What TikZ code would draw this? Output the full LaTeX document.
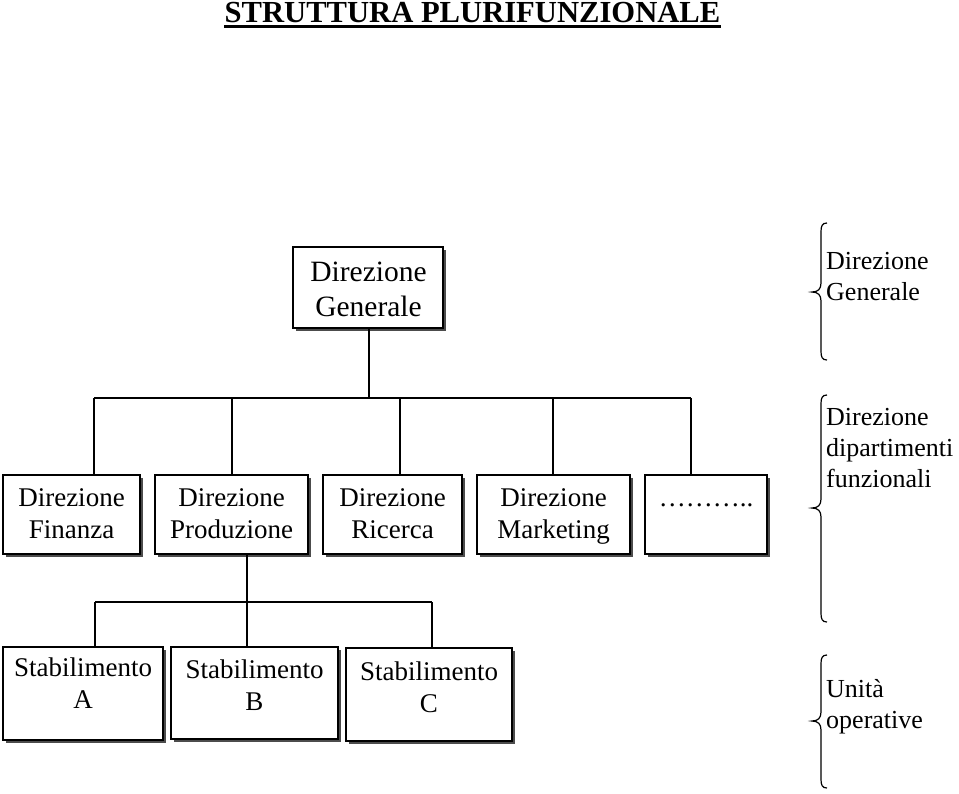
\documentclass[tikz,border=0pt]{standalone}
\usepackage{fontspec}
\setmainfont{Liberation Serif}
\usetikzlibrary{shadows,calc}
\tikzset{
  box/.style={draw=black, line width=1.3pt, fill=white, inner sep=0pt,
    drop shadow={shadow xshift=3pt, shadow yshift=-3pt, fill=black!70, opacity=1}},
  conn/.style={line width=1.3pt},
  lbl/.style={inner sep=0pt, anchor=base, align=center, font=\fontsize{27}{31.5}\selectfont},
  biglbl/.style={inner sep=0pt, anchor=base, align=center, font=\fontsize{29.5}{35}\selectfont},
  side/.style={inner sep=0pt, anchor=base west, align=left, font=\fontsize{26}{31}\selectfont},
  brc/.style={line width=1.2pt},
}
\begin{document}
\begin{tikzpicture}[x=1pt,y=-1pt]
\useasboundingbox (0,0) rectangle (959,793);
% title
\node[inner sep=0pt, anchor=base, font=\fontsize{30.6}{34}\selectfont\bfseries] (title) at (472.5,22.5) {STRUTTURA PLURIFUNZIONALE};
\draw[line width=2.5pt] ([yshift=-4pt]title.base west) -- ([yshift=-4pt]title.base east);

% boxes
\node[box, minimum width=150pt, minimum height=81pt] (dg) at (368,287.5) {};
\node[box, minimum width=137pt, minimum height=79pt] (fin) at (71.5,514.5) {};
\node[box, minimum width=153pt, minimum height=79pt] (prod) at (231.5,514.5) {};
\node[box, minimum width=139pt, minimum height=79pt] (ric) at (392.5,514.5) {};
\node[box, minimum width=153pt, minimum height=79pt] (mkt) at (553.5,514.5) {};
\node[box, minimum width=122pt, minimum height=79pt] (dots) at (706,514.5) {};
\node[box, minimum width=160pt, minimum height=93pt] (sa) at (83,693.5) {};
\node[box, minimum width=167pt, minimum height=92pt] (sb) at (254.5,693) {};
\node[box, minimum width=166pt, minimum height=93pt] (sc) at (429,694.5) {};

% texts (anchor = baseline of the last line)
\node[biglbl] (tdg) at (368.5,316.5) {Direzione\\Generale};
\node[lbl] (tfin) at (71.5,538) {Direzione\\Finanza};
\node[lbl] (tprod) at (231.5,538) {Direzione\\Produzione};
\node[lbl] (tric) at (392.5,538) {Direzione\\Ricerca};
\node[lbl] (tmkt) at (553.5,538) {Direzione\\Marketing};
\node[lbl] (tdots) at (706,506.5) {………..};
\node[lbl] (tsa) at (83,708) {Stabilimento\\A};
\node[lbl] (tsb) at (254.5,710) {Stabilimento\\B};
\node[lbl] (tsc) at (429,712) {Stabilimento\\C};

% connectors level 1-2
\coordinate (top) at (369,398);
\coordinate (b1) at (94,398);
\coordinate (b2) at (232,398);
\coordinate (b3) at (400,398);
\coordinate (b4) at (553,398);
\coordinate (b5) at (691,398);
\draw[conn] (dg.south -| top) -- (top);
\draw[conn] (b1) -- (b5);
\draw[conn] (b1) -- (b1 |- fin.north);
\draw[conn] (b2) -- (b2 |- prod.north);
\draw[conn] (b3) -- (b3 |- ric.north);
\draw[conn] (b4) -- (b4 |- mkt.north);
\draw[conn] (b5) -- (b5 |- dots.north);

% connectors level 2-3
\coordinate (p) at (247,554);
\coordinate (s1) at (95,602);
\coordinate (s3) at (432,602);
\draw[conn] (p |- prod.south) -- (p |- sb.north);
\draw[conn] (s1) -- (s3);
\draw[conn] (s1) -- (s1 |- sa.north);
\draw[conn] (s3) -- (s3 |- sc.north);

% braces
\draw[brc] (827,223) .. controls (822,223) and (821,226) .. (821,232) -- (821,283)
  .. controls (821,289) and (818,292) .. (812,292) .. controls (818,292) and (821,295) .. (821,301)
  -- (821,351) .. controls (821,357) and (822,360) .. (827,360);
\draw[brc] (827,395) .. controls (822,395) and (821,398) .. (821,404) -- (821,499)
  .. controls (821,505) and (818,508) .. (812,508) .. controls (818,508) and (821,511) .. (821,517)
  -- (821,613) .. controls (821,619) and (822,622) .. (827,622);
\draw[brc] (827,655) .. controls (822,655) and (821,658) .. (821,664) -- (821,712)
  .. controls (821,718) and (818,721) .. (812,721) .. controls (818,721) and (821,724) .. (821,730)
  -- (821,779) .. controls (821,785) and (822,788) .. (827,788);

\node[side] (l1) at (826,300) {Direzione\\Generale};
\node[side] (l2) at (826,487) {Direzione\\dipartimenti\\funzionali};
\node[side] (l3) at (826,728) {Unità\\operative};
\end{tikzpicture}
\end{document}
